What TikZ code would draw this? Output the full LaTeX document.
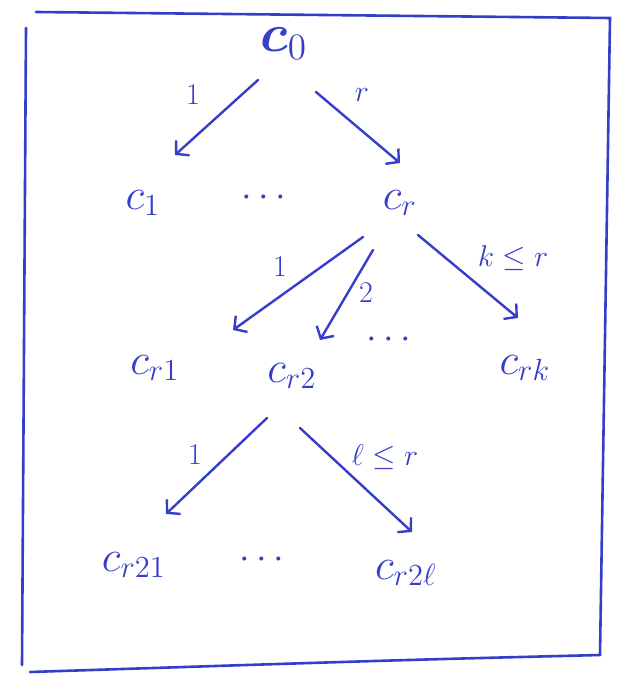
\documentclass[tikz,border=0pt]{standalone}
\usepackage{amsmath,amssymb,bm,graphicx}
\usetikzlibrary{arrows.meta}
\definecolor{pen}{RGB}{52,62,200}
\newcommand{\bigtxt}[1]{\scalebox{2.55}{\LARGE #1}}
\newcommand{\dotstxt}{\scalebox{2.2}{\LARGE$\cdots$}}
\newcommand{\lbltxt}[1]{\scalebox{1.74}{\LARGE #1}}
\begin{document}
\begin{tikzpicture}[x=1pt,y=-1pt,
  lbl/.style={text=pen,inner sep=1pt},
  elbl/.style={text=pen,inner sep=1pt},
  dts/.style={text=pen,inner sep=0pt},
  edge/.style={draw=pen,line width=2.4pt,line cap=round,
    -{Straight Barb[length=9pt,width=20pt,line width=2.4pt]}},
  frame/.style={draw=pen,line width=2.6pt,line cap=round}]
\useasboundingbox (0,0) rectangle (621,685);
% frame
\coordinate (f1) at (36,12);
\coordinate (f2) at (610,18);
\coordinate (f3) at (600,655);
\coordinate (f4) at (30,672);
\coordinate (f5) at (26,28);
\coordinate (f6) at (22,665);
\draw[frame] (f1) -- (f2) -- (f3);
\draw[frame] (f3) .. controls (400,660) .. (f4);
\draw[frame] (f5) -- (f6);
% nodes
\node[lbl] (c0) at (284,44) {\scalebox{3.1}{\LARGE$\bm{c}_0$}};
\node[lbl] (c1) at (143,203) {\bigtxt{$c_1$}};
\node[dts] (d1) at (267,198) {\dotstxt};
\node[lbl] (cr) at (400,203) {\bigtxt{$c_r$}};
\node[lbl] (cr1) at (155,368) {\bigtxt{$c_{r1}$}};
\node[lbl] (cr2) at (292,376) {\bigtxt{$c_{r2}$}};
\node[dts] (d2) at (392,340) {\dotstxt};
\node[lbl] (crk) at (525,368) {\bigtxt{$c_{rk}$}};
\node[lbl] (cr21) at (134,565) {\bigtxt{$c_{r21}$}};
\node[dts] (d3) at (265,560) {\dotstxt};
\node[lbl] (cr2l) at (406,573) {\bigtxt{$c_{r2\ell}$}};
% edge labels
\node[elbl] (l1) at (193,95) {\lbltxt{$1$}};
\node[elbl] (l2) at (362,95) {\lbltxt{$r$}};
\node[elbl] (l3) at (280,267) {\lbltxt{$1$}};
\node[elbl] (l4) at (366,293) {\lbltxt{$2$}};
\node[elbl] (l5) at (513,258) {\lbltxt{$k\leq r$}};
\node[elbl] (l6) at (195,455) {\lbltxt{$1$}};
\node[elbl] (l7) at (385,457) {\lbltxt{$\ell\leq r$}};
% edges
\coordinate (s1) at (258,80);
\coordinate (t1) at (175,155);
\coordinate (s2) at (316,92);
\coordinate (t2) at (400,163);
\coordinate (s3) at (363,237);
\coordinate (t3) at (233,330);
\coordinate (s4) at (373,250);
\coordinate (t4) at (320,340);
\coordinate (s5) at (418,235);
\coordinate (t5) at (518,318);
\coordinate (s6) at (267,418);
\coordinate (t6) at (166,514);
\coordinate (s7) at (300,428);
\coordinate (t7) at (412,532);
\draw[edge] (s1) -- (t1);
\draw[edge] (s2) -- (t2);
\draw[edge] (s3) -- (t3);
\draw[edge] (s4) -- (t4);
\draw[edge] (s5) -- (t5);
\draw[edge] (s6) -- (t6);
\draw[edge] (s7) -- (t7);
\end{tikzpicture}
\end{document}
